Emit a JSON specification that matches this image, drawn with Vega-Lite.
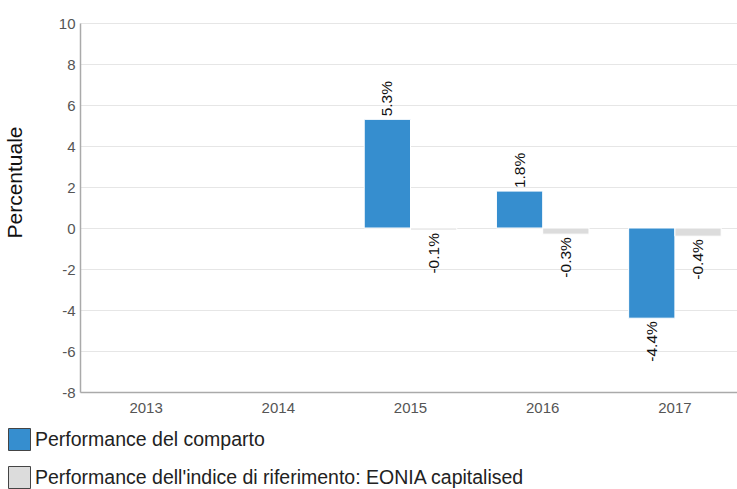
{
  "$schema": "https://vega.github.io/schema/vega-lite/v6.json",
  "width": 661,
  "height": 369,
  "autosize": {"type": "none"},
  "padding": {"left": 80, "top": 23, "right": 0, "bottom": 97},
  "background": "white",
  "config": {
    "font": "Liberation Sans",
    "view": {"stroke": null}
  },
  "data": {
    "values": [
      {"year": "2015", "series": "Performance del comparto", "value": 5.3, "label": "5.3%"},
      {"year": "2015", "series": "Performance dell'indice di riferimento: EONIA capitalised", "value": -0.1, "label": "-0.1%"},
      {"year": "2016", "series": "Performance del comparto", "value": 1.8, "label": "1.8%"},
      {"year": "2016", "series": "Performance dell'indice di riferimento: EONIA capitalised", "value": -0.3, "label": "-0.3%"},
      {"year": "2017", "series": "Performance del comparto", "value": -4.4, "label": "-4.4%"},
      {"year": "2017", "series": "Performance dell'indice di riferimento: EONIA capitalised", "value": -0.4, "label": "-0.4%"}
    ]
  },
  "encoding": {
    "x": {
      "field": "year",
      "type": "nominal",
      "scale": {"domain": ["2013", "2014", "2015", "2016", "2017"], "paddingInner": 0.3, "paddingOuter": 0.15},
      "axis": {
        "title": null,
        "labelAngle": 0,
        "labelFont": "Liberation Sans",
        "labelFontSize": 15,
        "labelColor": "#555555",
        "labelPadding": 8,
        "ticks": false,
        "domainColor": "#aaaaaa",
        "domainWidth": 1.5
      }
    },
    "xOffset": {
      "field": "series",
      "type": "nominal",
      "sort": ["Performance del comparto", "Performance dell'indice di riferimento: EONIA capitalised"]
    },
    "y": {
      "field": "value",
      "type": "quantitative",
      "scale": {"domain": [-8, 10], "nice": false},
      "axis": {
        "title": "Percentuale",
        "titleFont": "Liberation Sans",
        "titleFontSize": 21,
        "titleFontWeight": "normal",
        "titleColor": "#111111",
        "titleX": -55,
        "titleY": 159,
        "values": [-8, -6, -4, -2, 0, 2, 4, 6, 8, 10],
        "labelExpr": "datum.value + ''",
        "labelFont": "Liberation Sans",
        "labelFontSize": 15,
        "labelColor": "#555555",
        "labelPadding": 5,
        "ticks": false,
        "domainColor": "#aaaaaa",
        "domainWidth": 1.5,
        "gridColor": "#e6e6e6",
        "gridWidth": 1
      }
    }
  },
  "layer": [
    {
      "mark": {"type": "bar", "stroke": "white", "strokeWidth": 1},
      "encoding": {
        "color": {
          "field": "series",
          "type": "nominal",
          "scale": {
            "domain": ["Performance del comparto", "Performance dell'indice di riferimento: EONIA capitalised"],
            "range": ["#368ecf", "#dcdcdc"]
          },
          "legend": {
            "title": null,
            "orient": "none",
            "legendX": -72,
            "legendY": 405,
            "direction": "vertical",
            "symbolType": "square",
            "symbolSize": 484,
            "symbolStrokeColor": "#444444",
            "symbolStrokeWidth": 1,
            "labelFont": "Liberation Sans",
            "labelFontSize": 19.5,
            "labelColor": "#222222",
            "labelOffset": 4,
            "rowPadding": 11,
            "labelLimit": 700
          }
        }
      }
    },
    {
      "transform": [{"filter": "datum.value >= 0"}],
      "mark": {"type": "text", "angle": -90, "align": "left", "baseline": "middle", "dx": 3, "fontSize": 15.5, "font": "Liberation Sans", "color": "#111111"},
      "encoding": {"text": {"field": "label"}}
    },
    {
      "transform": [{"filter": "datum.value < 0"}],
      "mark": {"type": "text", "angle": -90, "align": "right", "baseline": "middle", "dx": -3, "fontSize": 15.5, "font": "Liberation Sans", "color": "#111111"},
      "encoding": {"text": {"field": "label"}}
    }
  ]
}
